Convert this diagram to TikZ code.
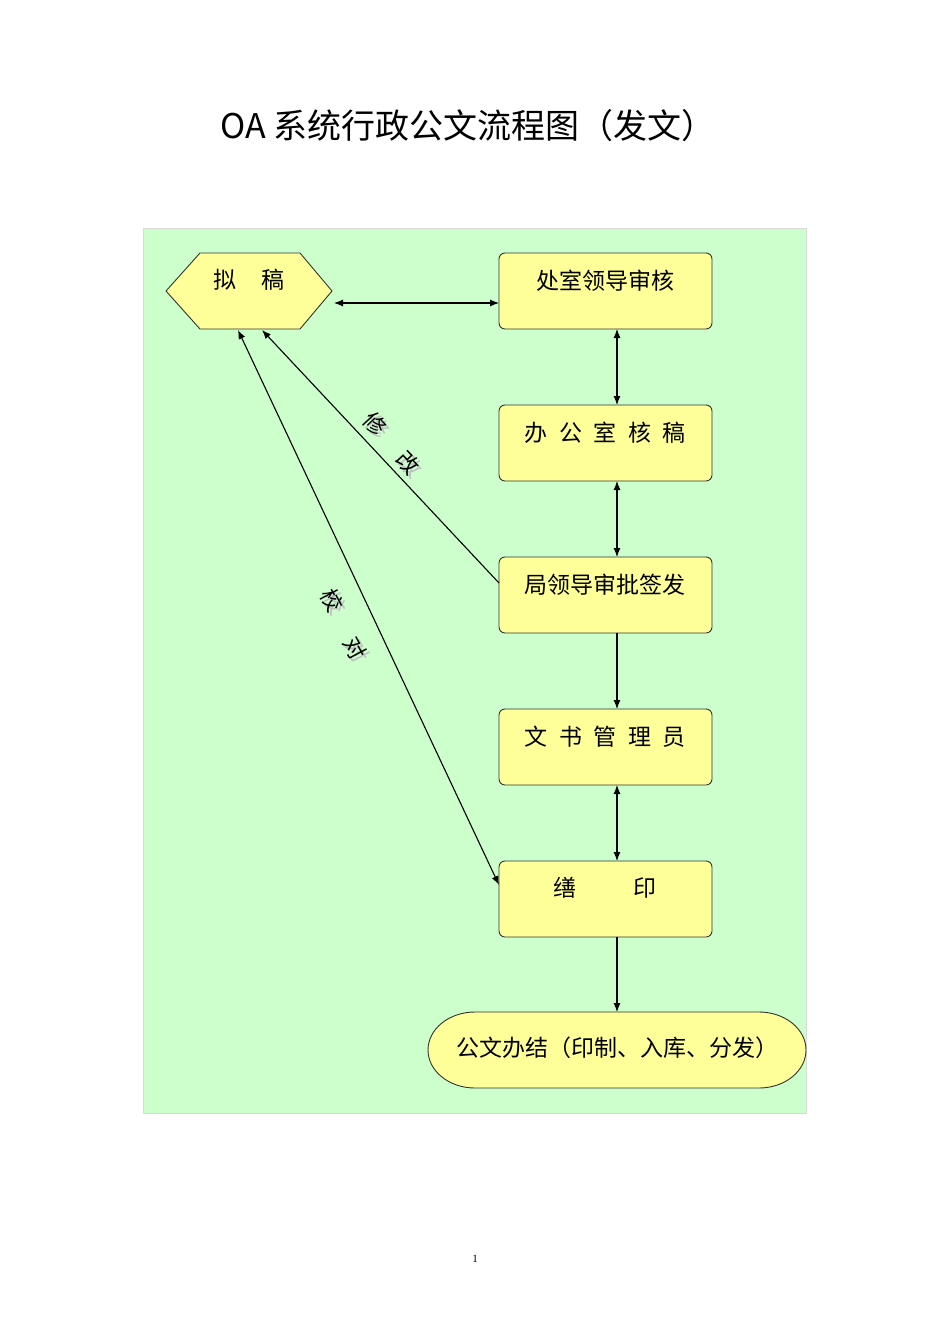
\documentclass[tikz,border=0pt]{standalone}
\usepackage{fontspec}
\setmainfont{Liberation Serif}
\newfontfamily\cjk{Noto Sans CJK SC}
\usetikzlibrary{arrows.meta,shapes.misc}
\definecolor{bg}{HTML}{CCFFCC}
\definecolor{yb}{HTML}{FFFF99}
\tikzset{
 box/.style={draw=black!80,fill=yb,rounded corners=6pt,line width=0.9pt},
 lbl/.style={font=\cjk\fontsize{23}{25}\selectfont,anchor=center},
 arr/.style={-{Latex[length=9pt,width=7pt]},line width=1.1pt},
 darr/.style={{Latex[length=9pt,width=7pt]}-{Latex[length=9pt,width=7pt]},line width=1.1pt},
 rot/.style={font=\cjk\fontsize{22}{24}\selectfont},
}
\begin{document}
\begin{tikzpicture}[x=1pt,y=-1pt]
\useasboundingbox (0,0) rectangle (950,1344);
\fill[bg,draw=black!15] (143,228) rectangle (806,1113);
\node[font=\cjk\fontsize{34}{38}\selectfont] (title) at (468,126) {OA 系统行政公文流程图（发文）};
\node[font=\fontsize{11}{12}\selectfont] (pg) at (475,1259) {1};
% hexagon
\draw[fill=yb,draw=black!80,line width=0.9pt] (166,291)--(200,253)--(300,253)--(332,291)--(300,329)--(200,329)--cycle;
\coordinate (hexR) at (334,303);
\coordinate (hexA) at (262,330);
\coordinate (hexB) at (238,330);
\node[lbl] (nigao) at (249,280) {拟\hspace{1.1em}稿};
% boxes
\foreach \n/\y in {b1/253,b2/405,b3/557,b4/709,b5/861}{
  \draw[box] (499,\y) rectangle (712,\y+76);
  \coordinate (\n n) at (617,\y);
  \coordinate (\n s) at (617,\y+76);
}
\coordinate (b1w) at (499,303);
\coordinate (b3w) at (499,583);
\coordinate (b5w) at (499,885);
\node[lbl] (t1) at (605,281) {处室领导审核};
\node[lbl] (t2) at (605,433) {办\hspace{0.5em}公\hspace{0.5em}室\hspace{0.5em}核\hspace{0.5em}稿};
\node[lbl] (t3) at (605,585) {局领导审批签发};
\node[lbl] (t4) at (605,737) {文\hspace{0.5em}书\hspace{0.5em}管\hspace{0.5em}理\hspace{0.5em}员};
\node[lbl] (t5) at (605,888) {缮\hspace{2.5em}印};
% stadium
\draw[fill=yb,draw=black!80,line width=0.9pt] (475,1012) -- (759,1012) arc[start angle=-90,end angle=90,x radius=47,y radius=38] -- (475,1088) arc[start angle=90,end angle=270,x radius=47,y radius=38] -- cycle;
\coordinate (endn) at (617,1012);
\node[lbl] (t6) at (617,1048) {公文办结（印制、入库、分发）};
% arrows
\draw[darr] (hexR) -- (b1w);
\draw[darr] (b1s) -- (b2n);
\draw[darr] (b2s) -- (b3n);
\draw[arr] (b3s) -- (b4n);
\draw[darr] (b4s) -- (b5n);
\draw[arr] (b5s) -- (endn);
\draw[arr] (b3w) -- (hexA);
\draw[darr] (b5w) -- (hexB);
% labels with shadow
\foreach \c/\x/\y/\r in {修/375/424/-47,改/408/463/-47,校/332/600/-62,对/355/648/-62}{
  \node[rot,text=black!25,rotate=\r] at (\x+3,\y+3) {\c};
  \node[rot,rotate=\r] at (\x,\y) {\c};
}
\end{tikzpicture}
\end{document}
